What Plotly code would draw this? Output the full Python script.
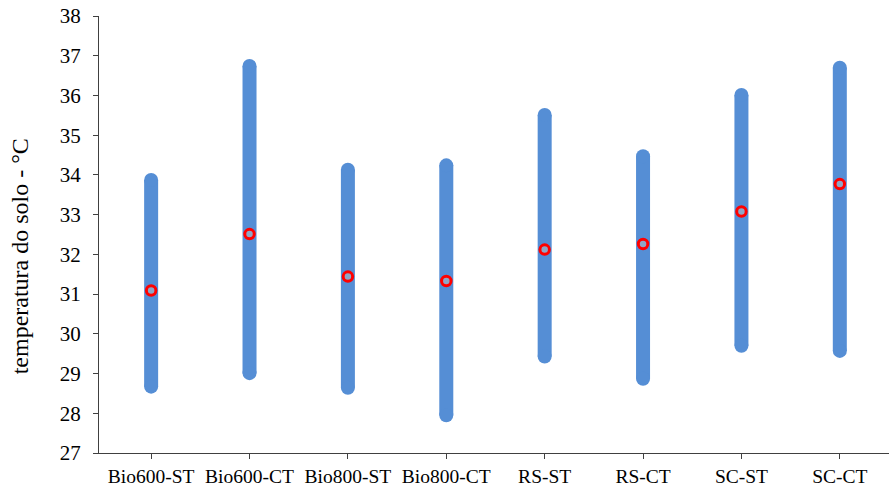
import plotly.graph_objects as go

categories = ["Bio600-ST", "Bio600-CT", "Bio800-ST", "Bio800-CT", "RS-ST", "RS-CT", "SC-ST", "SC-CT"]
low_values = [28.67, 29.01, 28.64, 27.95, 29.43, 28.87, 29.70, 29.57]
high_values = [33.87, 36.74, 34.13, 34.24, 35.51, 34.47, 36.01, 36.70]
mean_values = [31.09, 32.51, 31.44, 31.33, 32.12, 32.26, 33.08, 33.77]
y_ticks = list(range(27, 39))

BAR_BLUE = "#558ED5"
FONT = "Liberation Serif"

line_x, line_y = [], []
cap_x, cap_y = [], []
for c, lo, hi in zip(categories, low_values, high_values):
    line_x += [c, c, None]
    line_y += [lo, hi, None]
    cap_x += [c, c]
    cap_y += [lo, hi]

fig = go.Figure()
fig.add_trace(go.Scatter(x=line_x, y=line_y, mode="lines",
                         line=dict(color=BAR_BLUE, width=14),
                         hoverinfo="skip", showlegend=False))
fig.add_trace(go.Scatter(x=cap_x, y=cap_y, mode="markers",
                         marker=dict(color=BAR_BLUE, size=14, line=dict(width=0)),
                         hoverinfo="skip", showlegend=False))
fig.add_trace(go.Scatter(x=categories, y=mean_values, mode="markers",
                         marker=dict(symbol="circle", size=9.5, color="#8fa6c6",
                                     line=dict(color="#FF0000", width=3)),
                         showlegend=False))

fig.update_layout(
    width=889, height=486,
    margin=dict(l=99, r=0, t=16, b=33, autoexpand=False),
    paper_bgcolor="white", plot_bgcolor="white",
    font=dict(family=FONT, color="#000000"),
    showlegend=False,
)
fig.update_xaxes(type="category", categoryorder="array", categoryarray=categories,
                 range=[-0.53, len(categories) - 0.5],
                 showline=True, linecolor="#404040", linewidth=1.3,
                 ticks="outside", ticklen=5, tickcolor="#404040", tickwidth=1.3,
                 showgrid=False, zeroline=False, automargin=False,
                 tickfont=dict(family=FONT, size=19.5, color="#000000"))
fig.update_yaxes(range=[27, 38], tickvals=y_ticks, ticktext=[str(v) for v in y_ticks],
                 showline=True, linecolor="#404040", linewidth=1.3,
                 ticks="outside", ticklen=5, tickcolor="#404040", tickwidth=1.3,
                 showgrid=False, zeroline=False, automargin=False,
                 tickfont=dict(family=FONT, size=21, color="#000000"),
                 ticklabelstandoff=8)
fig.add_annotation(text="temperatura do solo - °C", textangle=-90,
                   xref="paper", yref="paper", x=0, y=0.45, xshift=-79,
                   xanchor="center", yanchor="middle", showarrow=False,
                   font=dict(family=FONT, size=24, color="#000000"))

fig.write_html("out.html", config={"displayModeBar": False},
               post_script="document.body.style.margin='0';document.body.style.overflow='hidden';")
